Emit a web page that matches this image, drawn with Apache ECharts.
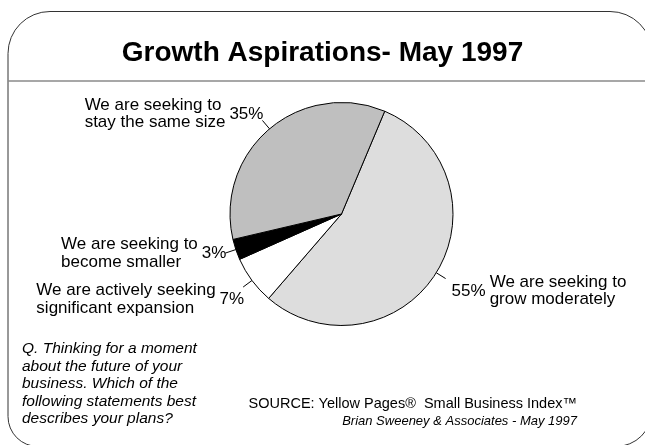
<!DOCTYPE html>
<html>
<head>
<meta charset="utf-8">
<script src="https://cdn.jsdelivr.net/npm/echarts@6/dist/echarts.min.js"></script>
<style>
  html, body { margin: 0; padding: 0; background: #fff; }
  #chart { width: 645px; height: 445px; }
</style>
</head>
<body>
<div id="chart"></div>
<script>
// slices clockwise from the top right
const categories = [
  'We are seeking to\ngrow moderately',
  'We are actively seeking\nsignificant expansion',
  'We are seeking to\nbecome smaller',
  'We are seeking to\nstay the same size'
]
const shares = [55, 7, 3, 35]

const questionText = 'Q. Thinking for a moment\nabout the future of your\nbusiness. Which of the\nfollowing statements best\ndescribes your plans?'
const sourceText = 'SOURCE: Yellow Pages\u00ae  Small Business Index\u2122'
const creditText = 'Brian Sweeney & Associates - May 1997'

const FONT = '"Liberation Sans", Arial, sans-serif'
const chart = echarts.init(document.getElementById('chart'))

// percent label boxes, filled by the first series, used to hang the names beside them
const pctBoxes = {}

function placePct(params) {
  const pts = params.labelLinePoints
  if (!pts) return {}
  const a = pts[0]
  const b = pts[pts.length - 1]
  const dx = b[0] - a[0]
  const dy = b[1] - a[1]
  const uy = dy / (Math.hypot(dx, dy) || 1)
  const left = dx < 0
  let vAlign = 'middle'
  let y = b[1]
  if (uy < -0.4) { vAlign = 'bottom'; y = b[1] + 2 }
  else if (uy > 0.4) { vAlign = 'top'; y = b[1] + 4 }
  const x = left ? b[0] + 1 : b[0] + 6
  const w = params.labelRect.width
  const h = params.labelRect.height
  const top = vAlign === 'top' ? y : (vAlign === 'bottom' ? y - h : y - h / 2)
  pctBoxes[params.dataIndex] = {
    left: left ? x - w : x,
    right: left ? x : x + w,
    cy: top + h / 2,
    side: left
  }
  return { x: x, y: y, align: left ? 'right' : 'left', verticalAlign: vAlign, labelLinePoints: pts }
}

function placeName(params) {
  const box = pctBoxes[params.dataIndex]
  if (!box) return {}
  const w = params.labelRect.width
  const gap = 4
  return {
    x: box.side ? box.left - gap - w : box.right + gap,
    y: box.cy,
    align: 'left',
    verticalAlign: 'middle'
  }
}

const pieData = categories.map((name, i) => ({ name: name, value: shares[i] }))

const option = {
  animation: false,
  color: ['#dddddd', '#ffffff', '#000000', '#bfbfbf'],
  title: {
    text: 'Growth Aspirations- May 1997',
    left: 'center',
    top: 39,
    padding: 0,
    textStyle: { fontFamily: FONT, fontSize: 28, fontWeight: 'bold', color: '#000' }
  },
  graphic: [
    {
      type: 'rect',
      shape: { x: 8, y: 11.5, width: 644, height: 435, r: [42, 42, 36, 30] },
      style: { fill: 'none', stroke: '#333', lineWidth: 1 },
      silent: true
    },
    {
      type: 'line',
      shape: { x1: 8, y1: 81, x2: 645, y2: 81 },
      style: { stroke: '#8a8a8a', lineWidth: 1.5 },
      silent: true
    },
    {
      type: 'text',
      x: 22, y: 340,
      style: {
        text: questionText, font: 'italic 15.5px ' + FONT, lineHeight: 17.5,
        fill: '#000', align: 'left', verticalAlign: 'top'
      },
      silent: true
    },
    {
      type: 'text',
      x: 577, y: 404,
      style: {
        text: sourceText, font: '14.5px ' + FONT,
        fill: '#000', align: 'right', verticalAlign: 'middle'
      },
      silent: true
    },
    {
      type: 'text',
      x: 577, y: 421,
      style: {
        text: creditText, font: 'italic 13px ' + FONT,
        fill: '#000', align: 'right', verticalAlign: 'middle'
      },
      silent: true
    }
  ],
  series: [
    {
      type: 'pie',
      center: [341.5, 214],
      radius: 111.5,
      startAngle: 67.2,
      clockwise: true,
      avoidLabelOverlap: false,
      silent: true,
      data: pieData,
      itemStyle: { borderColor: '#000', borderWidth: 1 },
      label: {
        show: true,
        position: 'outside',
        formatter: '{c}%',
        color: '#000',
        fontFamily: FONT,
        fontSize: 17
      },
      labelLine: {
        show: true,
        length: 11,
        length2: 0,
        smooth: false,
        lineStyle: { color: '#000', width: 1 }
      },
      labelLayout: placePct
    },
    {
      type: 'pie',
      center: [341.5, 214],
      radius: 111.5,
      startAngle: 67.2,
      clockwise: true,
      avoidLabelOverlap: false,
      silent: true,
      data: pieData,
      itemStyle: { color: 'rgba(0,0,0,0)', borderWidth: 0 },
      label: {
        show: true,
        position: 'outside',
        formatter: '{b}',
        color: '#000',
        fontFamily: FONT,
        fontSize: 17,
        lineHeight: 17.5
      },
      labelLine: { show: false },
      labelLayout: placeName
    }
  ]
}

chart.setOption(option)
</script>
</body>
</html>
